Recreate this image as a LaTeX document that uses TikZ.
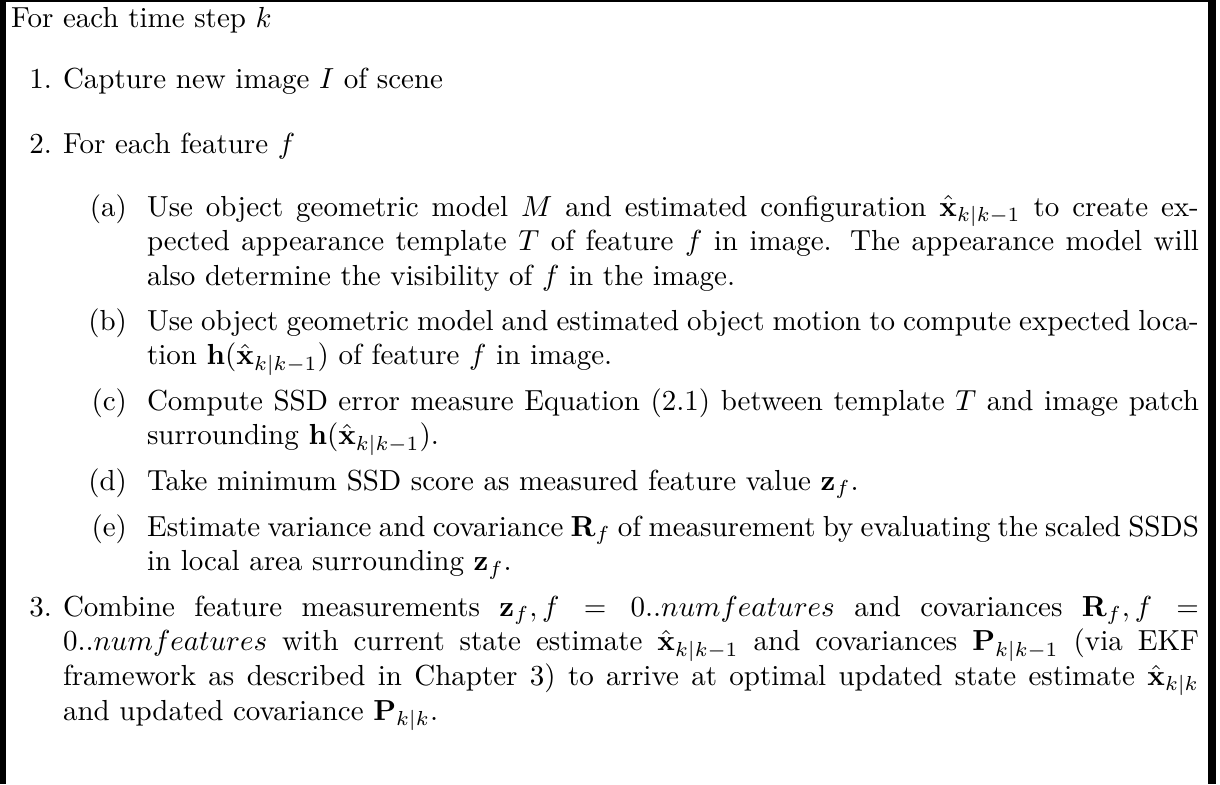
\documentclass[tikz,border=0pt]{standalone}
\begin{document}
\begin{tikzpicture}[x=0.3448pt,y=-0.3448pt,
  every node/.style={inner sep=0pt, outer sep=0pt, font=\fontsize{10pt}{12pt}\selectfont},
  para/.style={anchor=base west, align=justify, text width=#1},
  lbl/.style={anchor=base east}]
\useasboundingbox (0,0) rectangle (1220,784);
% frame: top rule and the two side rules
\fill (0,0) rectangle (6,784);
\fill (1208,0) rectangle (1216,784);
\fill (0,0) rectangle (1216,2);

% heading
\node[anchor=base west] (head) at (11,27) {For each time step $k$};

% step 1
\node[lbl] (l1) at (52,88) {1.};
\node[para=391.7pt] (s1) at (63,88) {Capture new image $I$ of scene};

% step 2
\node[lbl] (l2) at (52,153) {2.};
\node[para=391.7pt] (s2) at (63,153) {For each feature $f$};

\node[lbl] (la) at (127,216) {(a)};
\node[para=362.7pt] (sa) at (147,216) {Use object geometric model $M$ and estimated configuration $\hat{\mathbf{x}}_{k|k-1}$ to create ex-\linebreak pected appearance template $T$ of feature $f$ in image.  The appearance model will\linebreak also determine the visibility of $f$ in the image.};

\node[lbl] (lb) at (127,330) {(b)};
\node[para=362.7pt] (sb) at (147,330) {Use object geometric model and estimated object motion to compute expected loca-\linebreak tion $\mathbf{h}(\hat{\mathbf{x}}_{k|k-1})$ of feature $f$ in image.};

\node[lbl] (lc) at (127,410) {(c)};
\node[para=362.7pt] (sc) at (147,410) {Compute SSD error measure Equation (2.1) between template $T$ and image patch\linebreak surrounding $\mathbf{h}(\hat{\mathbf{x}}_{k|k-1})$.};

\node[lbl] (ld) at (127,490) {(d)};
\node[para=362.7pt] (sd) at (147,490) {Take minimum SSD score as measured feature value $\mathbf{z}_f$.};

\node[lbl] (le) at (127,536) {(e)};
\node[para=362.7pt] (se) at (147,536) {Estimate variance and covariance $\mathbf{R}_f$ of measurement by evaluating the scaled SSDS\linebreak in local area surrounding $\mathbf{z}_f$.};

% step 3
\node[lbl] (l3) at (52,616) {3.};
\node[para=391.7pt] (s3) at (63,616) {Combine feature measurements $\mathbf{z}_f, f = 0..numfeatures$ and covariances $\mathbf{R}_f, f =$\linebreak $0..numfeatures$ with current state estimate $\hat{\mathbf{x}}_{k|k-1}$ and covariances $\mathbf{P}_{k|k-1}$ (via EKF\linebreak framework as described in Chapter 3) to arrive at optimal updated state estimate $\hat{\mathbf{x}}_{k|k}$\linebreak and updated covariance $\mathbf{P}_{k|k}$.};
\end{tikzpicture}
\end{document}
